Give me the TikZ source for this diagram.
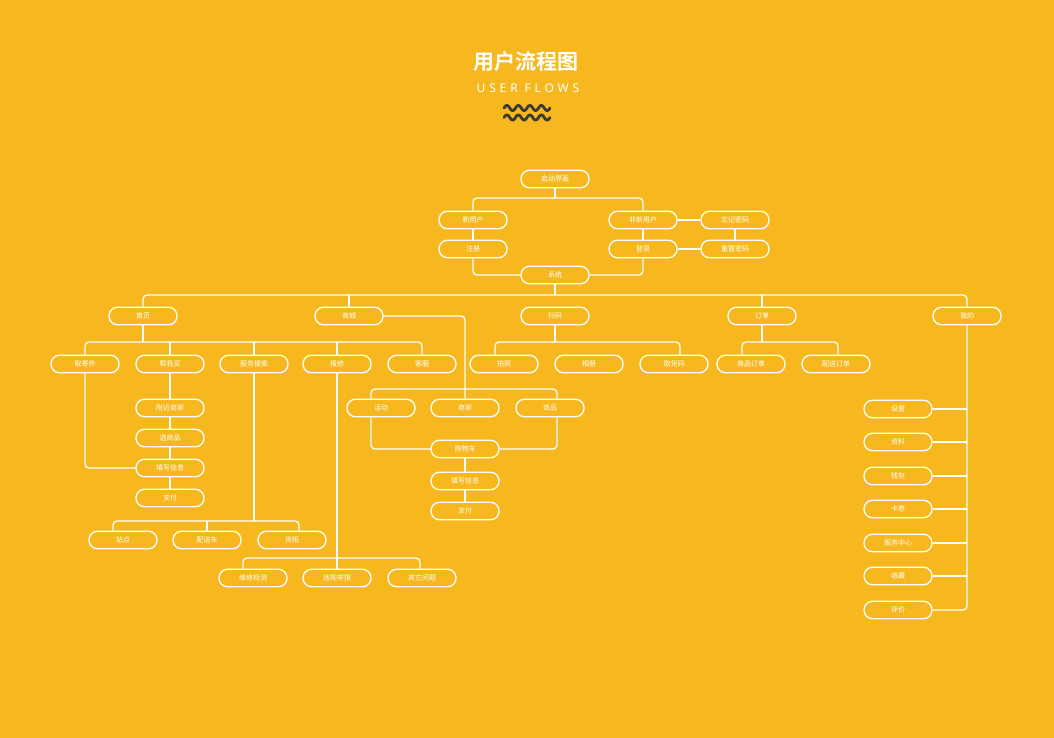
\documentclass[tikz,border=0pt]{standalone}
\usepackage{fontspec}
\newfontfamily\cjk{Noto Sans CJK SC}
\newfontfamily\cjkb{Noto Sans CJK SC Bold}
\newfontfamily\latsp[LetterSpace=32]{Noto Sans}
\definecolor{bg}{HTML}{F7B81F}
\definecolor{wavec}{HTML}{3C3A36}
\tikzset{
  pill/.style={draw=white, line width=1.3pt, rounded corners=8.5pt, minimum width=68pt, minimum height=17.5pt, inner sep=0pt, text=white, font=\cjk\fontsize{7}{8}\selectfont},
  conn/.style={draw=white, line width=1.3pt, rounded corners=4pt},
  wave/.style={draw=wavec, line width=2.8pt, line cap=round, line join=round}
}
\begin{document}
\begin{tikzpicture}[x=1pt,y=-1pt]
\fill[bg] (0,0) rectangle (1054,738);
\useasboundingbox (0,0) rectangle (1054,738);
% title
\node[text=white, font=\cjkb\fontsize{21}{23}\selectfont] (title) at (526,62) {用户流程图};
\node[text=white, font=\latsp\fontsize{12}{14}\selectfont] (sub) at (528,88) {USER FLOWS};
\draw[wave] plot[domain=0:46, samples=90, smooth] ({504+\x}, {108-2.6*sin(\x*31.3)});
\draw[wave] plot[domain=0:46, samples=90, smooth] ({504+\x}, {117.5-2.6*sin(\x*31.3)});
% top
\node[pill] (qd) at (555,179) {启动界面};
\node[pill] (xyh) at (473,220) {新用户};
\node[pill] (fxyh) at (643,220) {非新用户};
\node[pill] (wjmm) at (735,220) {忘记密码};
\node[pill] (zc) at (473,249) {注册};
\node[pill] (dl) at (643,249) {登录};
\node[pill] (czmm) at (735,249) {重置密码};
\node[pill] (xt) at (555,275) {系统};
\draw[conn] (qd.south) -- (qd.south |- 0,198);
\draw[conn] (xyh.north) |- (fxyh.north |- 0,198) -- (fxyh.north);
\draw[conn] (xyh.south) -- (zc.north);
\draw[conn] (fxyh.south) -- (dl.north);
\draw[conn] (fxyh.east) -- (wjmm.west);
\draw[conn] (wjmm.south) -- (czmm.north);
\draw[conn] (czmm.west) -- (dl.east);
\draw[conn] (zc.south) |- (xt.west);
\draw[conn] (dl.south) |- (xt.east);
% level 2
\node[pill] (sy) at (143,316) {首页};
\node[pill] (sc) at (349,316) {商城};
\node[pill] (sm) at (555,316) {扫码};
\node[pill] (dd) at (762,316) {订单};
\node[pill] (wd) at (967,316) {我的};
\draw[conn] (xt.south) -- (xt.south |- 0,295);
\draw[conn] (sy.north) |- (wd.north |- 0,295) -- (wd.north);
\draw[conn] (sc.north) -- (sc.north |- 0,295);
\draw[conn] (dd.north) -- (dd.north |- 0,295);
% 首页 children
\node[pill] (qjj) at (85,364) {取寄件};
\node[pill] (bwm) at (170,364) {帮我买};
\node[pill] (fwss) at (254,364) {服务搜索};
\node[pill] (bx) at (337,364) {报修};
\node[pill] (kf) at (422,364) {客服};
\draw[conn] (sy.south) -- (sy.south |- 0,342);
\draw[conn] (qjj.north) |- (kf.north |- 0,342) -- (kf.north);
\draw[conn] (bwm.north) -- (bwm.north |- 0,342);
\draw[conn] (fwss.north) -- (fwss.north |- 0,342);
\draw[conn] (bx.north) -- (bx.north |- 0,342);
% 帮我买 chain
\node[pill] (fjsj) at (170,408) {附近商家};
\node[pill] (xsp) at (170,438) {选商品};
\node[pill] (txxx) at (170,468) {填写信息};
\node[pill] (zf) at (170,498) {支付};
\draw[conn] (bwm.south) -- (fjsj.north);
\draw[conn] (fjsj.south) -- (xsp.north);
\draw[conn] (xsp.south) -- (txxx.north);
\draw[conn] (txxx.south) -- (zf.north);
\draw[conn] (qjj.south) |- (txxx.west);
% 服务搜索 children
\node[pill] (zd) at (123,540) {站点};
\node[pill] (psc) at (207,540) {配送车};
\node[pill] (hg) at (292,540) {货柜};
\draw[conn] (fwss.south) -- (fwss.south |- 0,521);
\draw[conn] (zd.north -| 113,0) -- (113,521) -- (299,521) -- (hg.north -| 299,0);
\draw[conn] (psc.north) -- (psc.north |- 0,521);
% 报修 children
\node[pill] (wxjc) at (253,578) {维修检测};
\node[pill] (wgjb) at (337,578) {违规举报};
\node[pill] (qtwt) at (422,578) {其它问题};
\draw[conn] (bx.south) -- (wgjb.north);
\draw[conn] (wxjc.north -| 243,0) -- (243,558) -- (420,558) -- (qtwt.north -| 420,0);
% 商城 children
\node[pill] (hd) at (381,408) {活动};
\node[pill] (sj) at (465,408) {商家};
\node[pill] (sp) at (550,408) {商品};
\node[pill] (gwc) at (465,449) {购物车};
\node[pill] (txxx2) at (465,481) {填写信息};
\node[pill] (zf2) at (465,511) {支付};
\draw[conn] (sc.east) -| (sj.north);
\draw[conn] (hd.north -| 371,0) -- (371,389) -- (557,389) -- (sp.north -| 557,0);
\draw[conn] (hd.south -| 371,0) |- (gwc.west);
\draw[conn] (sp.south -| 557,0) |- (gwc.east);
\draw[conn] (gwc.south) -- (txxx2.north);
\draw[conn] (txxx2.south) -- (zf2.north);
% 扫码 children
\node[pill] (pz) at (504,364) {拍照};
\node[pill] (xc) at (589,364) {相册};
\node[pill] (qhm) at (674,364) {取货码};
\draw[conn] (sm.south) -- (sm.south |- 0,342);
\draw[conn] (pz.north -| 495,0) -- (495,342) -- (680,342) -- (qhm.north -| 680,0);
% 订单 children
\node[pill] (spdd) at (751,364) {商品订单};
\node[pill] (psdd) at (836,364) {配送订单};
\draw[conn] (dd.south) -- (dd.south |- 0,342);
\draw[conn] (spdd.north -| 742,0) -- (742,342) -- (838,342) -- (psdd.north -| 838,0);
% 我的 children
\node[pill] (szh) at (898,409) {设置};
\node[pill] (zl) at (898,442) {资料};
\node[pill] (qb) at (898,476) {钱包};
\node[pill] (kq) at (898,509) {卡券};
\node[pill] (fwzx) at (898,543) {服务中心};
\node[pill] (scg) at (898,576) {收藏};
\node[pill] (pj) at (898,610) {评价};
\draw[conn] (wd.south) |- (pj.east);
\foreach \n in {szh,zl,qb,kq,fwzx,scg} {
  \draw[conn] (\n.east) -- (\n.east -| wd.south);
}
\end{tikzpicture}
\end{document}
